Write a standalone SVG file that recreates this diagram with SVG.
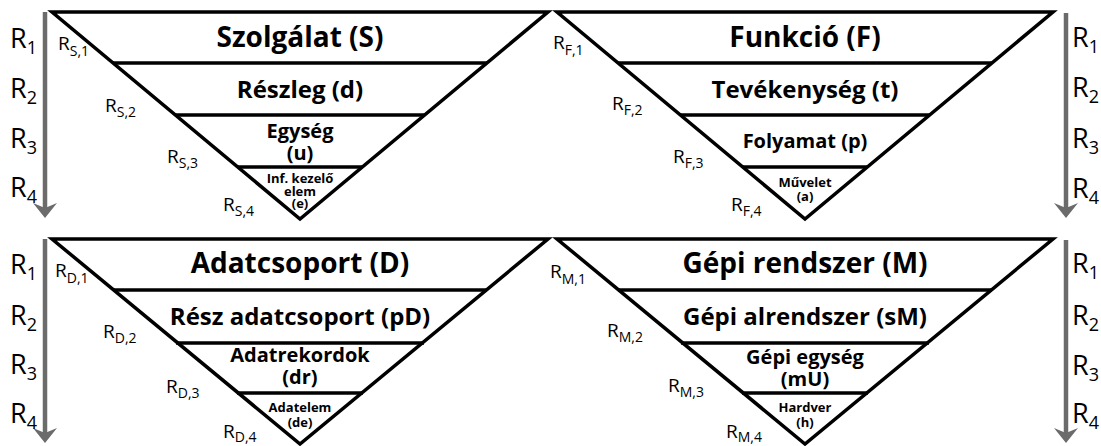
<svg xmlns="http://www.w3.org/2000/svg" width="1101" height="446" viewBox="0 0 1101 446">
<style>
.tri{fill:#fff;stroke:#000;stroke-width:3.5;stroke-linejoin:miter}
.lv{stroke:#000;stroke-width:3.5}
.t1{font-family:"Open Sans","Liberation Sans",sans-serif;font-weight:bold;font-size:28px;text-anchor:middle;fill:#000}
.t2{font-family:"Open Sans","Liberation Sans",sans-serif;font-weight:bold;font-size:24px;text-anchor:middle;fill:#000}
.t3{font-family:"Open Sans","Liberation Sans",sans-serif;font-weight:bold;font-size:20px;text-anchor:middle;fill:#000}
.t4{font-family:"Open Sans","Liberation Sans",sans-serif;font-weight:bold;font-size:13px;text-anchor:middle;fill:#000}
.r{font-family:"Open Sans","Liberation Sans",sans-serif;font-size:27px;fill:#000}
.rs{font-family:"Open Sans","Liberation Sans",sans-serif;font-size:19px;fill:#000}
.sub{font-size:14px}
.arr{stroke:#6b6b6b;stroke-width:4.5;fill:none}
.ah{fill:#6b6b6b}
</style>

<g id="node-szolgalat">
<polygon class="tri" points="52,12 548,12 300,219"/>
<line class="lv" x1="113" y1="63" x2="487" y2="63"/>
<line class="lv" x1="175" y1="115" x2="425" y2="115"/>
<line class="lv" x1="238" y1="167" x2="362" y2="167"/>
<text class="t1" x="300" y="47">Szolgálat (S)</text>
<text class="t2" x="300" y="98">Részleg (d)</text>
<text class="t3" x="300" y="138">Egység</text>
<text class="t3" x="300" y="160">(u)</text>
<text class="t4" x="300" y="183">Inf. kezelő</text>
<text class="t4" x="300" y="196">elem</text>
<text class="t4" x="300" y="208">(e)</text>
<text class="rs" x="58" y="50">R<tspan class="sub" dy="6">S,1</tspan></text>
<text class="rs" x="105" y="112">R<tspan class="sub" dy="5">S,2</tspan></text>
<text class="rs" x="167" y="163">R<tspan class="sub" dy="5">S,3</tspan></text>
<text class="rs" x="223" y="211">R<tspan class="sub" dy="5">S,4</tspan></text>
</g>

<g id="node-funkcio">
<polygon class="tri" points="557,12 1053,12 805,219"/>
<line class="lv" x1="618" y1="63" x2="992" y2="63"/>
<line class="lv" x1="680" y1="115" x2="930" y2="115"/>
<line class="lv" x1="743" y1="167" x2="867" y2="167"/>
<text class="t1" x="805" y="47">Funkció (F)</text>
<text class="t2" x="805" y="98">Tevékenység (t)</text>
<text class="t3" x="805" y="148">Folyamat (p)</text>
<text class="t4" x="805" y="187">Művelet</text>
<text class="t4" x="805" y="201">(a)</text>
<text class="rs" x="553" y="49">R<tspan class="sub" dy="6">F,1</tspan></text>
<text class="rs" x="612" y="110">R<tspan class="sub" dy="5">F,2</tspan></text>
<text class="rs" x="673" y="163">R<tspan class="sub" dy="5">F,3</tspan></text>
<text class="rs" x="731" y="211">R<tspan class="sub" dy="5">F,4</tspan></text>
</g>

<g id="node-adatcsoport">
<polygon class="tri" points="52,239 548,239 300,444"/>
<line class="lv" x1="113" y1="290" x2="487" y2="290"/>
<line class="lv" x1="176" y1="343" x2="424" y2="343"/>
<line class="lv" x1="237" y1="393" x2="363" y2="393"/>
<text class="t1" x="300" y="273">Adatcsoport (D)</text>
<text class="t2" x="300" y="325">Rész adatcsoport (pD)</text>
<text class="t3" x="300" y="362">Adatrekordok</text>
<text class="t3" x="300" y="384">(dr)</text>
<text class="t4" x="300" y="412">Adatelem</text>
<text class="t4" x="300" y="427">(de)</text>
<text class="rs" x="55" y="277">R<tspan class="sub" dy="6">D,1</tspan></text>
<text class="rs" x="103" y="338">R<tspan class="sub" dy="5">D,2</tspan></text>
<text class="rs" x="166" y="393">R<tspan class="sub" dy="5">D,3</tspan></text>
<text class="rs" x="223" y="438">R<tspan class="sub" dy="4">D,4</tspan></text>
</g>

<g id="node-gepi-rendszer">
<polygon class="tri" points="557,239 1053,239 805,444"/>
<line class="lv" x1="618" y1="290" x2="992" y2="290"/>
<line class="lv" x1="681" y1="343" x2="929" y2="343"/>
<line class="lv" x1="742" y1="393" x2="868" y2="393"/>
<text class="t1" x="805" y="273">Gépi rendszer (M)</text>
<text class="t2" x="805" y="325">Gépi alrendszer (sM)</text>
<text class="t3" x="805" y="364">Gépi egység</text>
<text class="t3" x="805" y="386">(mU)</text>
<text class="t4" x="805" y="412">Hardver</text>
<text class="t4" x="805" y="427">(h)</text>
<text class="rs" x="550" y="278">R<tspan class="sub" dy="6">M,1</tspan></text>
<text class="rs" x="607" y="337">R<tspan class="sub" dy="5">M,2</tspan></text>
<text class="rs" x="668" y="392">R<tspan class="sub" dy="5">M,3</tspan></text>
<text class="rs" x="726" y="438">R<tspan class="sub" dy="4">M,4</tspan></text>
</g>

<g id="connectors">
<line class="arr" x1="45" y1="12" x2="45" y2="208"/>
<path class="ah" d="M33,203 L45,218 L57,203 L45,208 Z"/>
<line class="arr" x1="1066" y1="13" x2="1066" y2="208"/>
<path class="ah" d="M1054,203 L1066,218 L1078,203 L1066,208 Z"/>
<line class="arr" x1="45" y1="239" x2="45" y2="433"/>
<path class="ah" d="M33,428 L45,443 L57,428 L45,433 Z"/>
<line class="arr" x1="1066" y1="240" x2="1066" y2="433"/>
<path class="ah" d="M1054,428 L1066,443 L1078,428 L1066,433 Z"/>
</g>

<g id="level-labels">
<text class="r" x="10" y="48">R<tspan font-size="18" dy="6">1</tspan></text>
<text class="r" x="10" y="98">R<tspan font-size="18" dy="6">2</tspan></text>
<text class="r" x="10" y="148">R<tspan font-size="18" dy="6">3</tspan></text>
<text class="r" x="10" y="197">R<tspan font-size="18" dy="6">4</tspan></text>
<text class="r" x="1072" y="47">R<tspan font-size="18" dy="6">1</tspan></text>
<text class="r" x="1072" y="97">R<tspan font-size="18" dy="6">2</tspan></text>
<text class="r" x="1072" y="148">R<tspan font-size="18" dy="6">3</tspan></text>
<text class="r" x="1072" y="198">R<tspan font-size="18" dy="6">4</tspan></text>
<text class="r" x="10" y="274">R<tspan font-size="18" dy="6">1</tspan></text>
<text class="r" x="10" y="325">R<tspan font-size="18" dy="6">2</tspan></text>
<text class="r" x="10" y="374">R<tspan font-size="18" dy="6">3</tspan></text>
<text class="r" x="10" y="423">R<tspan font-size="18" dy="6">4</tspan></text>
<text class="r" x="1072" y="273">R<tspan font-size="18" dy="6">1</tspan></text>
<text class="r" x="1072" y="325">R<tspan font-size="18" dy="6">2</tspan></text>
<text class="r" x="1072" y="375">R<tspan font-size="18" dy="6">3</tspan></text>
<text class="r" x="1072" y="423">R<tspan font-size="18" dy="6">4</tspan></text>
</g>
</svg>
